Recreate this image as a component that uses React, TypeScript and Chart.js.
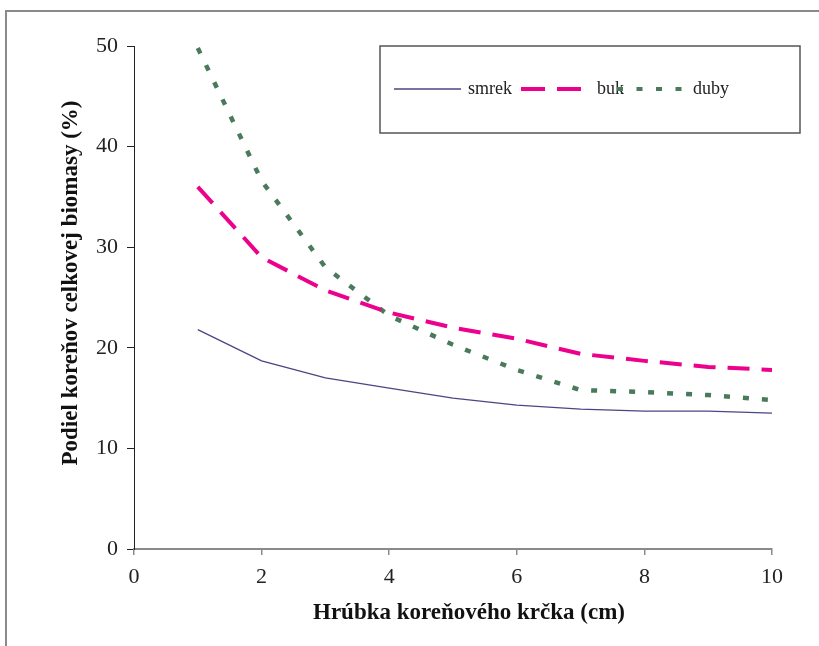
import React, { useEffect, useRef } from "react";
import { Chart, registerables } from "chart.js";

Chart.register(...registerables);

const xValues = [1, 2, 3, 4, 5, 6, 7, 8, 9, 10];
const smrek = [21.8, 18.7, 17.0, 16.0, 15.0, 14.3, 13.9, 13.7, 13.7, 13.5];
const buk = [36.0, 29.0, 25.7, 23.5, 22.0, 20.9, 19.4, 18.7, 18.1, 17.8];
const duby = [49.8, 36.6, 28.0, 23.2, 20.3, 17.8, 15.8, 15.6, 15.3, 14.8];
const seriesNames = ["smrek", "buk", "duby"];
const xTitle = "Hrúbka koreňového krčka (cm)";
const yTitle = "Podiel koreňov celkovej biomasy (%)";

const SERIF = "'Liberation Serif', 'Times New Roman', serif";

const decorPlugin = {
  id: "decor",
  beforeDraw(chart: any) {
    const ctx = chart.ctx;
    ctx.save();
    ctx.strokeStyle = "#8a8a8a";
    ctx.lineWidth = 2;
    ctx.beginPath();
    ctx.moveTo(6, 646);
    ctx.lineTo(6, 11);
    ctx.lineTo(819, 11);
    ctx.stroke();
    ctx.restore();
  },
  afterDraw(chart: any) {
    const ctx = chart.ctx;
    ctx.save();
    // axis titles
    ctx.fillStyle = "#111";
    ctx.font = `bold 23px ${SERIF}`;
    ctx.textAlign = "center";
    ctx.textBaseline = "middle";
    ctx.fillText(xTitle, 469, 613);
    ctx.translate(71, 283);
    ctx.rotate(-Math.PI / 2);
    ctx.fillText(yTitle, 0, 0);
    ctx.restore();

    // legend box
    ctx.save();
    ctx.strokeStyle = "#555";
    ctx.lineWidth = 1.5;
    ctx.strokeRect(380, 46, 420, 87);
    const y = 89;
    const ds = chart.data.datasets;
    ctx.font = `18px ${SERIF}`;
    ctx.fillStyle = "#222";
    ctx.textAlign = "left";
    ctx.textBaseline = "middle";
    // smrek
    ctx.strokeStyle = ds[0].borderColor;
    ctx.lineWidth = 1.5;
    ctx.setLineDash([]);
    ctx.beginPath();
    ctx.moveTo(394, y);
    ctx.lineTo(461, y);
    ctx.stroke();
    ctx.fillText(ds[0].label, 468, y);
    // buk
    ctx.strokeStyle = ds[1].borderColor;
    ctx.lineWidth = 4;
    ctx.setLineDash([24, 12]);
    ctx.beginPath();
    ctx.moveTo(521, y);
    ctx.lineTo(581, y);
    ctx.stroke();
    ctx.fillText(ds[1].label, 597, y);
    // duby
    ctx.strokeStyle = ds[2].borderColor;
    ctx.lineWidth = 4;
    ctx.setLineDash([6, 13.5]);
    ctx.beginPath();
    ctx.moveTo(617, y);
    ctx.lineTo(683, y);
    ctx.stroke();
    ctx.setLineDash([]);
    ctx.fillText(ds[2].label, 693, y);
    ctx.restore();
  },
};

export default function App() {
  const ref = useRef<HTMLCanvasElement>(null);
  useEffect(() => {
    document.body.style.margin = "0";
    const canvas = ref.current!;
    const mk = (vals: number[]) => xValues.map((x, i) => ({ x, y: vals[i] }));
    const chart = new Chart(canvas, {
      type: "line",
      data: {
        datasets: [
          {
            label: seriesNames[0],
            data: mk(smrek),
            borderColor: "#4b4584",
            borderWidth: 1.3,
            pointRadius: 0,
            tension: 0,
          },
          {
            label: seriesNames[1],
            data: mk(buk),
            borderColor: "#ec008c",
            borderWidth: 4,
            borderDash: [22, 12],
            pointRadius: 0,
            tension: 0,
          },
          {
            label: seriesNames[2],
            data: mk(duby),
            borderColor: "#4a7a5c",
            borderWidth: 4.5,
            borderDash: [6, 13],
            pointRadius: 0,
            tension: 0,
          },
        ],
      },
      options: {
        responsive: false,
        animation: false,
        layout: { padding: { left: 0, top: 46, right: 47, bottom: 0 } },
        plugins: { legend: { display: false }, tooltip: { enabled: false } },
        scales: {
          x: {
            type: "linear",
            min: 0,
            max: 10,
            afterFit: (s: any) => {
              s.height = 97;
            },
            ticks: {
              stepSize: 2,
              color: "#222",
              padding: 9,
              font: { family: SERIF, size: 22 },
              maxRotation: 0,
            },
            grid: { drawOnChartArea: false, drawTicks: true, tickLength: 6, color: "#8a8a8a", lineWidth: 1.5 },
            border: { color: "#8a8a8a", width: 2 },
          },
          y: {
            min: 0,
            max: 50,
            afterFit: (s: any) => {
              s.width = 134;
            },
            ticks: {
              stepSize: 10,
              color: "#222",
              padding: 9,
              font: { family: SERIF, size: 22 },
            },
            grid: { drawOnChartArea: false, drawTicks: true, tickLength: 7, color: "#222", lineWidth: 1 },
            border: { color: "#222", width: 1 },
          },
        },
      },
      plugins: [decorPlugin],
    });
    return () => chart.destroy();
  }, []);
  return <canvas ref={ref} width={819} height={646} style={{ display: "block" }} />;
}
